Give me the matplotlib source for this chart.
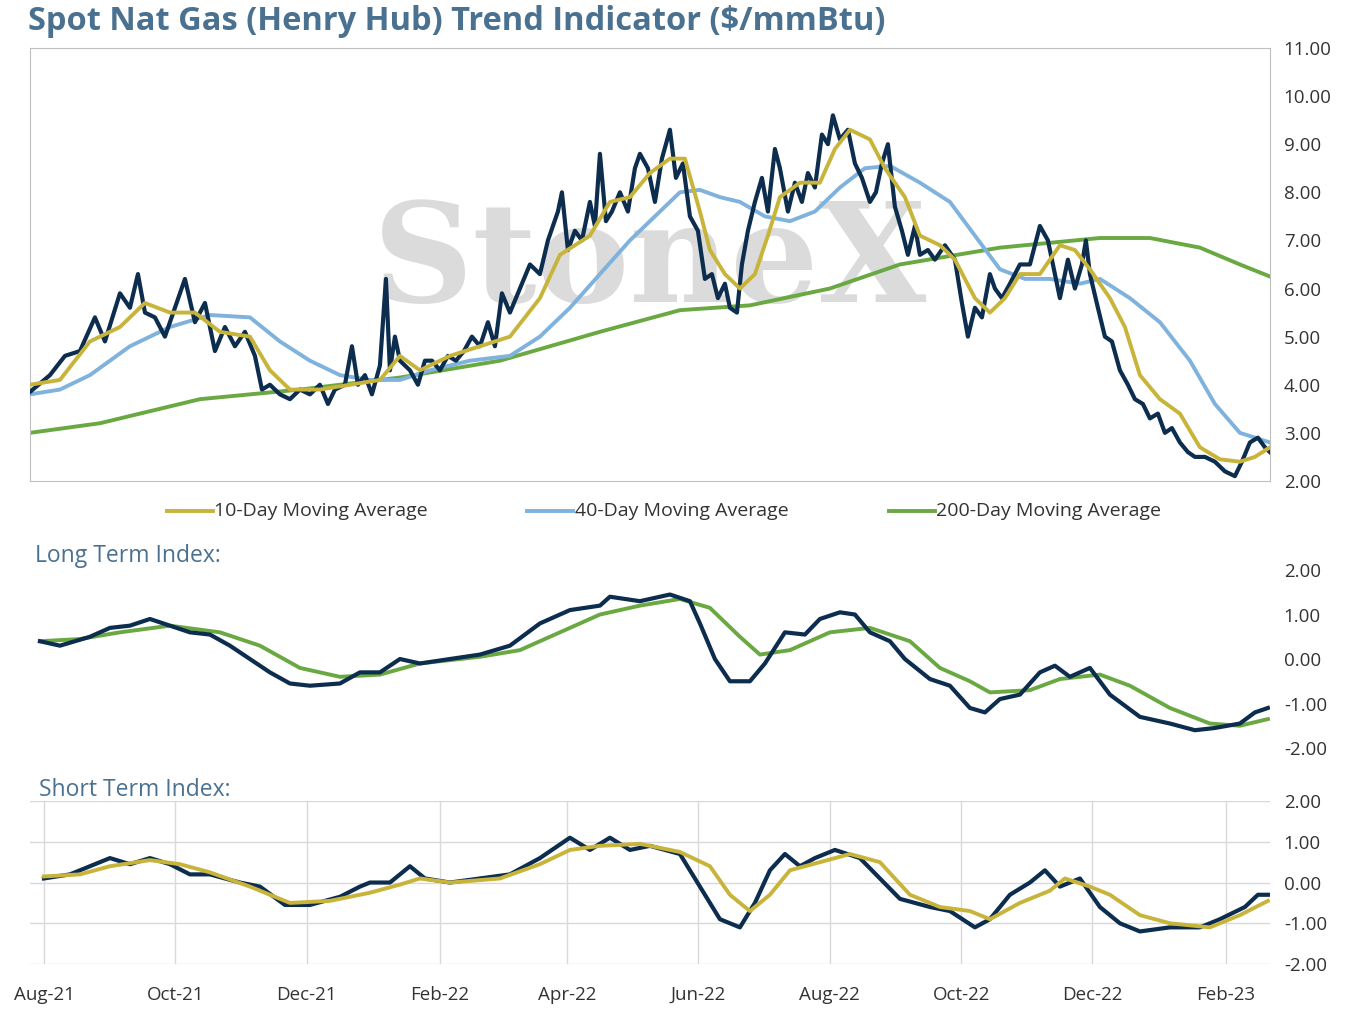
import numpy as np, pandas as pd
import matplotlib
matplotlib.use("Agg")
import matplotlib.pyplot as plt

plt.rcParams['font.family'] = ['Open Sans', 'DejaVu Sans']

# sample positions (chart timeline units, ~2.153 per day from 1-Aug-2021 at 44)
spot_t = [30,50,65,80,95,105,120,130,138,145,155,165,175,185,195,205,215,225,235,245,255,262,270,280,290,300,310,320,328,335,345,352,358,365,372,380,386,390,395,400,410,418,425,432,440,448,456,464,472,480,488,495,502,510,520,530,540,548,558,562,568,575,582,590,595,600,606,612,620,628,635,640,648,655,662,670,676,683,690,698,705,712,718,725,730,737,742,748,755,762,768,775,780,788,795,802,808,815,822,828,833,840,848,855,862,870,876,882,888,895,902,908,915,920,928,935,945,955,962,968,975,982,990,995,1002,1010,1020,1030,1040,1048,1055,1060,1068,1075,1082,1086,1090,1098,1105,1112,1120,1128,1135,1143,1150,1158,1165,1172,1180,1188,1195,1205,1215,1225,1235,1242,1250,1258,1265,1270]
spot_v = [3.85,4.2,4.6,4.7,5.4,4.9,5.9,5.6,6.3,5.5,5.4,5.0,5.6,6.2,5.3,5.7,4.7,5.2,4.8,5.1,4.6,3.9,4.0,3.8,3.7,3.9,3.8,4.0,3.6,3.9,4.0,4.8,4.0,4.2,3.8,4.4,6.2,4.3,5.0,4.5,4.3,4.0,4.5,4.5,4.3,4.6,4.5,4.7,5.0,4.8,5.3,4.8,5.9,5.5,6.0,6.5,6.3,7.0,7.6,8.0,6.8,7.2,7.0,7.8,7.3,8.8,7.4,7.6,8.0,7.6,8.5,8.8,8.5,7.8,8.7,9.3,8.3,8.6,7.5,7.2,6.2,6.3,5.8,6.1,5.6,5.5,6.5,7.2,7.8,8.3,7.6,8.9,8.5,7.6,8.2,7.8,8.4,8.1,9.2,9.0,9.6,9.1,9.3,8.6,8.3,7.8,8.0,8.6,9.0,7.7,7.2,6.7,7.3,6.7,6.8,6.6,6.9,6.6,5.7,5.0,5.6,5.4,6.3,6.0,5.8,6.1,6.5,6.5,7.3,7.0,6.3,5.8,6.6,6.0,6.5,7.0,6.3,5.6,5.0,4.9,4.3,4.0,3.7,3.6,3.3,3.4,3.0,3.1,2.8,2.6,2.5,2.5,2.4,2.2,2.1,2.4,2.8,2.9,2.7,2.6]

ma10_t = [30,60,90,120,145,170,195,220,250,270,290,320,350,380,400,420,450,480,510,540,560,590,610,630,650,670,685,700,710,725,740,755,768,780,800,820,835,850,870,885,905,920,940,955,975,990,1005,1020,1040,1060,1075,1090,1110,1125,1140,1160,1180,1200,1220,1240,1255,1270]
ma10_v = [4.0,4.1,4.9,5.2,5.7,5.5,5.5,5.1,5.0,4.3,3.9,3.9,4.0,4.1,4.6,4.3,4.6,4.8,5.0,5.8,6.7,7.1,7.8,7.9,8.4,8.7,8.7,7.6,6.8,6.3,6.0,6.3,7.1,7.9,8.2,8.2,8.9,9.3,9.1,8.5,7.9,7.1,6.9,6.6,5.8,5.5,5.8,6.3,6.3,6.9,6.8,6.4,5.8,5.2,4.2,3.7,3.4,2.7,2.45,2.4,2.5,2.7]

ma40_t = [30,60,90,130,170,210,250,280,310,340,370,400,430,470,510,540,570,600,630,660,680,700,720,740,765,790,815,840,865,890,920,950,975,1000,1025,1050,1080,1100,1130,1160,1190,1215,1240,1270]
ma40_v = [3.8,3.9,4.2,4.8,5.2,5.45,5.4,4.9,4.5,4.2,4.1,4.1,4.3,4.5,4.6,5.0,5.6,6.3,7.0,7.6,8.0,8.05,7.9,7.8,7.5,7.4,7.6,8.1,8.5,8.55,8.2,7.8,7.1,6.4,6.2,6.2,6.1,6.2,5.8,5.3,4.5,3.6,3.0,2.8]

ma200_t = [30,100,200,300,400,500,600,680,750,830,900,1000,1100,1150,1200,1240,1270]
ma200_v = [3.0,3.2,3.7,3.9,4.15,4.5,5.1,5.55,5.65,6.0,6.5,6.85,7.05,7.05,6.85,6.5,6.25]

lt_t = [40,60,90,110,130,150,170,190,210,230,250,270,290,310,340,360,380,400,420,450,480,510,540,570,600,610,640,670,690,700,715,730,750,765,785,805,820,840,855,870,890,905,930,950,970,985,1000,1020,1040,1055,1070,1090,1110,1140,1170,1195,1215,1240,1255,1268]
lt_v = [0.4,0.3,0.5,0.7,0.75,0.9,0.75,0.6,0.55,0.3,0.0,-0.3,-0.55,-0.6,-0.55,-0.3,-0.3,0.0,-0.1,0.0,0.1,0.3,0.8,1.1,1.2,1.4,1.3,1.45,1.3,0.8,0.0,-0.5,-0.5,-0.1,0.6,0.55,0.9,1.05,1.0,0.6,0.4,0.0,-0.45,-0.6,-1.1,-1.2,-0.9,-0.8,-0.3,-0.15,-0.4,-0.2,-0.8,-1.3,-1.45,-1.6,-1.55,-1.45,-1.2,-1.1]
lts_t = [40,80,120,170,220,260,300,340,380,420,480,520,560,600,640,680,710,740,760,790,830,870,910,940,970,990,1030,1060,1100,1130,1170,1210,1240,1268]
lts_v = [0.4,0.45,0.6,0.75,0.6,0.3,-0.2,-0.4,-0.35,-0.1,0.05,0.2,0.6,1.0,1.2,1.35,1.15,0.5,0.1,0.2,0.6,0.7,0.4,-0.2,-0.5,-0.75,-0.7,-0.45,-0.35,-0.6,-1.1,-1.45,-1.5,-1.35]

st_t = [44,70,100,110,130,150,170,190,210,240,260,285,310,340,360,370,390,410,425,450,480,510,540,570,590,610,630,650,680,700,720,740,755,770,785,800,815,835,860,880,900,930,950,975,990,1010,1030,1045,1060,1080,1100,1120,1140,1170,1200,1220,1245,1258,1268]
st_v = [0.1,0.2,0.5,0.6,0.45,0.6,0.45,0.2,0.2,0.0,-0.1,-0.55,-0.55,-0.35,-0.1,0.0,0.0,0.4,0.1,0.0,0.1,0.2,0.6,1.1,0.8,1.1,0.8,0.9,0.7,-0.1,-0.9,-1.1,-0.5,0.3,0.7,0.4,0.6,0.8,0.6,0.1,-0.4,-0.6,-0.7,-1.1,-0.9,-0.3,0.0,0.3,-0.1,0.1,-0.6,-1.0,-1.2,-1.1,-1.1,-0.9,-0.6,-0.3,-0.3]
sts_t = [44,80,110,150,180,210,250,290,330,370,400,420,450,500,540,570,600,640,680,710,730,750,770,790,820,850,880,910,940,970,990,1020,1050,1065,1090,1110,1140,1170,1210,1240,1268]
sts_v = [0.15,0.2,0.4,0.55,0.45,0.25,-0.1,-0.5,-0.45,-0.25,-0.05,0.1,0.0,0.1,0.45,0.8,0.9,0.95,0.75,0.4,-0.3,-0.7,-0.3,0.3,0.5,0.7,0.5,-0.3,-0.6,-0.7,-0.9,-0.5,-0.2,0.1,-0.1,-0.3,-0.8,-1.0,-1.1,-0.8,-0.45]

month_labels = ['Aug-21','Oct-21','Dec-21','Feb-22','Apr-22','Jun-22','Aug-22','Oct-22','Dec-22','Feb-23']

SCALE = 2.153
base = pd.Timestamp('2021-08-01')
def to_dates(t):
    return [base + pd.Timedelta(days=(v - 44) / SCALE) for v in t]

NAVY = '#0d2d4f'; YEL = '#c8b43a'; BLUE = '#7fb2dc'; GRN = '#6aa842'
TXT = '#333333'; TITLE = '#4a7190'
xmin = base + pd.Timedelta(days=(30 - 44) / SCALE)
xmax = base + pd.Timedelta(days=(1270 - 44) / SCALE)

fig = plt.figure(figsize=(13.55, 10.10), dpi=100)
ax1 = fig.add_axes([0.0221, 0.5238, 0.9151, 0.4287])
ax2 = fig.add_axes([0.0221, 0.2594, 0.9151, 0.1762])
ax3 = fig.add_axes([0.0221, 0.0455, 0.9151, 0.1614])

fig.text(0.021, 0.979, 'Spot Nat Gas (Henry Hub) Trend Indicator ($/mmBtu)', fontsize=23.5,
         fontweight='bold', color=TITLE, va='center', ha='left')

ax1.text(0.5, 0.50, 'StoneX', transform=ax1.transAxes, fontsize=100, family='DejaVu Serif',
         fontweight='bold', color='#d0d0d0', alpha=0.75, ha='center', va='center', zorder=0)
ax1.plot(to_dates(ma200_t), ma200_v, color=GRN, lw=2.8, zorder=2)
ax1.plot(to_dates(ma40_t), ma40_v, color=BLUE, lw=2.8, zorder=3)
ax1.plot(to_dates(spot_t), spot_v, color=NAVY, lw=3, zorder=4)
ax1.plot(to_dates(ma10_t), ma10_v, color=YEL, lw=2.8, zorder=5)
ax1.set_ylim(2, 11)
ax1.set_yticks(np.arange(2, 11.01, 1))
ax1.set_yticklabels([f'{v:.2f}' for v in np.arange(2, 11.01, 1)])
ax1.yaxis.tick_right()
ax1.tick_params(axis='y', length=0, labelsize=13.5, colors=TXT, pad=10)
ax1.set_xticks([])
for s in ax1.spines.values():
    s.set_color('#bfbfbf')
ax1.set_xlim(xmin, xmax)

for x, c, lab in [(0.123, YEL, '10-Day Moving Average'), (0.389, BLUE, '40-Day Moving Average'),
                  (0.656, GRN, '200-Day Moving Average')]:
    fig.add_artist(plt.Line2D([x, x + 0.034], [0.494, 0.494], color=c, lw=2.8))
    fig.text(x + 0.035, 0.494, lab, fontsize=14, color=TXT, va='center')

fig.text(0.026, 0.450, 'Long Term Index:', fontsize=16.5, color=TITLE, va='center')
fig.text(0.029, 0.218, 'Short Term Index:', fontsize=16.5, color=TITLE, va='center')

ax2.plot(to_dates(lts_t), lts_v, color=GRN, lw=2.8)
ax2.plot(to_dates(lt_t), lt_v, color=NAVY, lw=3)
ax3.plot(to_dates(sts_t), sts_v, color=YEL, lw=2.8, zorder=3)
ax3.plot(to_dates(st_t), st_v, color=NAVY, lw=3, zorder=2)

mticks = pd.date_range('2021-08-01', '2023-02-01', freq='2MS')
for ax in (ax2, ax3):
    ax.set_ylim(-2, 2)
    ax.set_yticks([-2, -1, 0, 1, 2])
    ax.set_yticklabels(['-2.00', '-1.00', '0.00', '1.00', '2.00'])
    ax.yaxis.tick_right()
    ax.tick_params(axis='y', length=0, labelsize=13.5, colors=TXT, pad=10)
    ax.set_xlim(xmin, xmax)
    for s in ax.spines.values():
        s.set_visible(False)
ax2.set_xticks([])
ax3.grid(axis='y', color='#d9d9d9', lw=1)
ax3.set_xticks(mticks)
ax3.set_xticklabels(month_labels)
ax3.tick_params(axis='x', length=0, labelsize=13.5, colors=TXT, pad=16)
for d in mticks:
    ax3.axvline(d, color='#d9d9d9', lw=1, zorder=0)
ax3.set_axisbelow(True)

fig.savefig('out.png', dpi=100)
